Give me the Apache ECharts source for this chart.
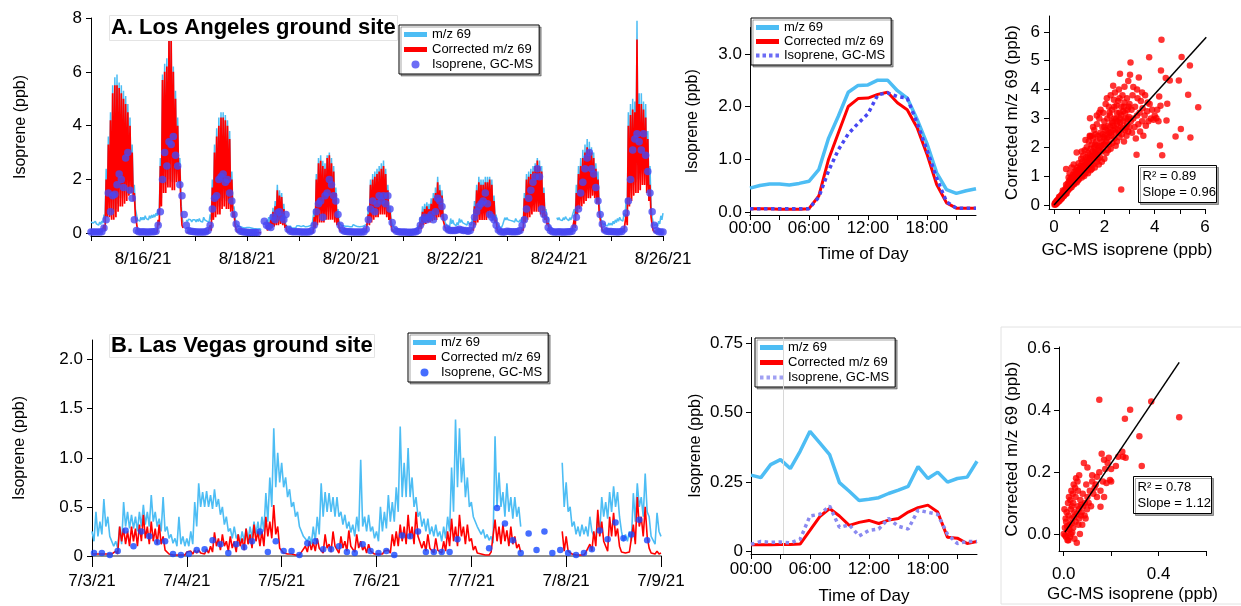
<!DOCTYPE html>
<html>
<head>
<meta charset="utf-8">
<script src="https://cdn.jsdelivr.net/npm/echarts@6/dist/echarts.min.js"></script>
<style>
  html, body { margin: 0; padding: 0; background: #fff; }
  #isopreneChart { width: 1241px; height: 606px; }
</style>
</head>
<body>
<div id="isopreneChart"></div>
<script>
// ---------- Los Angeles, hourly upper / lower envelope per day (8/15 .. 8/25) ----------
const laMz69Top = [
  [0.42,0.38,0.45,0.38,0.42,0.46,0.7,2.4,3.6,4.5,5.5,5.8,5.9,5.6,5.5,5.3,5.1,4.8,4.3,3.3,1.8,0.7,0.55,0.6],
  [0.6,0.65,0.6,0.65,0.68,0.7,0.75,0.9,2.8,5.9,6.3,6.5,7.4,7.3,6.2,5.3,4.3,2.8,0.6,null,0.5,0.52,0.5,0.5],
  [0.5,0.52,0.55,0.5,0.6,0.55,0.5,0.7,2.0,3.3,3.9,4.3,4.5,4.5,4.4,4.2,3.8,2.3,1.0,0.35,0.28,0.25,0.22,0.2],
  [0.22,0.22,0.2,0.18,0.17,0.16,0.17,null,null,0.5,0.6,0.7,0.95,1.2,1.8,1.6,1.5,1.1,0.45,0.3,0.28,0.26,0.27,0.28],
  [0.28,0.25,0.28,0.24,0.25,0.28,0.3,0.9,2.2,2.8,2.9,2.7,2.6,2.9,3.0,2.8,2.5,1.7,0.9,0.4,0.35,0.32,0.32,0.3],
  [0.3,0.32,0.28,0.25,0.24,0.25,0.28,0.33,1.0,2.0,2.2,2.3,2.4,2.5,2.6,2.7,2.4,1.8,1.0,0.35,0.24,0.2,0.18,0.18],
  [0.17,0.15,0.17,0.16,0.17,0.17,0.2,0.28,0.6,1.0,1.1,1.15,1.1,1.3,1.5,1.7,2.1,1.8,1.6,0.7,0.35,0.3,0.55,0.5],
  [0.35,0.4,0.55,0.5,0.45,0.4,0.45,0.4,0.55,1.2,1.8,2.1,2.0,2.0,2.1,2.1,2.1,2.0,1.4,0.7,0.35,0.28,0.32,0.58],
  [0.58,0.55,0.55,0.5,0.55,0.5,0.5,0.6,1.5,2.2,2.3,2.4,2.5,2.6,2.8,2.7,2.5,1.7,0.9,0.6,0.28,null,null,0.58],
  [0.58,0.55,0.58,0.62,0.55,0.58,0.62,0.9,1.8,2.5,2.8,3.1,3.3,3.5,3.4,3.2,3.0,2.6,2.3,1.1,0.45,0.38,0.35,0.38],
  [0.38,0.45,0.5,0.55,0.6,0.55,0.75,1.3,4.5,4.8,5.0,4.9,7.9,5.2,5.2,4.9,4.8,3.8,2.5,0.6,0.28,0.35,0.45,0.65]
];
const laMz69Bottom = [
  [0.35,0.32,0.35,0.3,0.33,0.38,0.5,0.9,0.9,0.8,0.8,0.9,1.1,1.3,1.3,1.4,1.5,1.7,1.8,1.5,0.9,0.5,0.45,0.5],
  [0.5,0.55,0.5,0.55,0.58,0.6,0.65,0.7,1.3,1.8,1.8,2.0,2.0,1.9,1.9,2.2,2.2,1.3,0.4,null,0.42,0.45,0.42,0.44],
  [0.42,0.44,0.45,0.42,0.5,0.45,0.42,0.5,0.8,0.9,1.0,1.0,1.2,1.3,1.2,1.2,1.1,0.9,0.6,0.28,0.22,0.18,0.16,0.15],
  [0.16,0.16,0.15,0.13,0.12,0.12,0.13,null,null,0.35,0.4,0.4,0.45,0.5,0.5,0.55,0.5,0.4,0.25,0.2,0.2,0.2,0.2,0.22],
  [0.22,0.2,0.22,0.18,0.2,0.22,0.24,0.4,0.6,0.7,0.7,0.7,0.8,0.8,0.8,0.8,0.7,0.6,0.4,0.3,0.28,0.26,0.26,0.24],
  [0.24,0.26,0.22,0.2,0.18,0.2,0.22,0.25,0.5,0.7,0.8,0.9,0.9,1.0,1.0,1.0,0.9,0.8,0.5,0.25,0.18,0.15,0.13,0.13],
  [0.13,0.11,0.13,0.12,0.13,0.13,0.15,0.2,0.35,0.5,0.55,0.6,0.6,0.65,0.7,0.7,0.8,0.8,0.7,0.4,0.25,0.22,0.35,0.35],
  [0.28,0.3,0.4,0.4,0.35,0.3,0.35,0.3,0.4,0.6,0.7,0.8,0.8,0.8,0.8,0.9,0.9,0.8,0.6,0.35,0.25,0.22,0.25,0.5],
  [0.5,0.48,0.46,0.42,0.46,0.42,0.42,0.45,0.7,0.8,0.9,1.0,1.1,1.1,1.1,1.0,0.9,0.8,0.5,0.3,0.2,null,null,0.5],
  [0.5,0.47,0.5,0.54,0.47,0.5,0.55,0.6,1.0,1.2,1.3,1.4,1.5,1.6,1.6,1.7,1.6,1.4,1.1,0.5,0.3,0.3,0.28,0.3],
  [0.3,0.35,0.4,0.45,0.5,0.45,0.6,0.8,1.5,1.6,1.8,1.9,2.0,2.0,2.2,2.2,1.9,1.6,1.0,0.4,0.22,0.25,0.35,0.5]
];
const laMz69End = 0.75;
const laCorrTop = [
  [0.05,0.05,0.05,0.05,0.05,0.05,0.3,2.0,3.3,4.2,5.2,5.5,5.5,5.4,5.2,5.0,4.8,4.5,4.0,3.0,1.5,0.4,0.05,0.03],
  [0.03,0.03,0.03,0.03,0.03,0.03,0.05,0.5,2.5,5.7,6.0,6.2,7.2,7.2,6.0,5.0,4.0,2.5,0.3,null,0.03,0.03,0.03,0.03],
  [0.03,0.03,0.03,0.03,0.03,0.03,0.04,0.3,1.7,3.0,3.6,4.0,4.3,4.3,4.2,4.0,3.5,2.0,0.8,0.15,0.04,0.03,0.03,0.03],
  [0.02,0.02,0.02,0.02,0.02,0.02,0.02,null,null,0.3,0.4,0.5,0.8,1.0,1.6,1.4,1.35,0.9,0.3,0.08,0.05,0.04,0.04,0.04],
  [0.03,0.03,0.03,0.03,0.03,0.03,0.05,0.6,2.0,2.6,2.7,2.5,2.4,2.8,2.9,2.6,2.3,1.5,0.6,0.1,0.05,0.05,0.04,0.04],
  [0.04,0.04,0.04,0.04,0.04,0.04,0.05,0.1,0.7,1.8,2.0,2.1,2.2,2.3,2.4,2.5,2.2,1.6,0.8,0.1,0.05,0.04,0.04,0.04],
  [0.03,0.03,0.03,0.03,0.03,0.03,0.04,0.1,0.4,0.8,0.9,1.0,0.9,1.1,1.3,1.5,1.9,1.6,1.4,0.5,0.1,0.05,0.05,0.05],
  [0.05,0.05,0.05,0.05,0.05,0.05,0.05,0.06,0.2,1.0,1.6,1.9,1.8,1.8,1.9,1.9,2.0,1.8,1.2,0.5,0.05,0.04,0.04,0.04],
  [0.05,0.05,0.05,0.05,0.05,0.05,0.05,0.2,1.3,2.0,2.1,2.2,2.3,2.5,2.7,2.5,2.3,1.5,0.7,0.4,0.05,null,null,0.05],
  [0.05,0.05,0.05,0.05,0.05,0.05,0.06,0.5,1.5,2.2,2.5,2.8,3.0,3.2,3.1,3.0,2.8,2.4,2.0,0.8,0.1,0.05,0.05,0.05],
  [0.05,0.05,0.05,0.05,0.05,0.05,0.1,0.7,4.0,4.4,4.6,4.5,7.2,4.8,4.8,4.6,4.3,3.5,1.8,0.3,0.05,0.05,0.05,0.05]
];
const laCorrBottom = [
  [0.05,0.05,0.05,0.05,0.05,0.05,0.1,0.6,0.6,0.5,0.5,0.6,0.8,1.0,1.0,1.1,1.2,1.4,1.5,1.2,0.6,0.1,0.03,0.03],
  [0.03,0.03,0.03,0.03,0.03,0.03,0.04,0.3,1.0,1.5,1.5,1.7,1.7,1.6,1.6,1.9,1.9,1.0,0.2,null,0.03,0.03,0.03,0.03],
  [0.03,0.03,0.03,0.03,0.03,0.03,0.03,0.1,0.5,0.6,0.7,0.7,0.9,1.0,0.9,0.9,0.8,0.6,0.3,0.05,0.03,0.03,0.03,0.03],
  [0.02,0.02,0.02,0.02,0.02,0.02,0.02,null,null,0.1,0.15,0.2,0.25,0.3,0.3,0.35,0.3,0.2,0.08,0.04,0.03,0.03,0.03,0.03],
  [0.03,0.03,0.03,0.03,0.03,0.03,0.03,0.2,0.3,0.4,0.4,0.4,0.5,0.5,0.5,0.5,0.4,0.3,0.2,0.05,0.04,0.04,0.03,0.03],
  [0.04,0.04,0.04,0.04,0.04,0.04,0.04,0.05,0.3,0.4,0.5,0.6,0.6,0.7,0.7,0.7,0.6,0.5,0.3,0.05,0.04,0.04,0.04,0.04],
  [0.03,0.03,0.03,0.03,0.03,0.03,0.03,0.05,0.15,0.3,0.35,0.4,0.4,0.45,0.5,0.5,0.6,0.6,0.5,0.2,0.05,0.04,0.04,0.04],
  [0.04,0.04,0.04,0.04,0.04,0.04,0.04,0.05,0.1,0.3,0.4,0.5,0.5,0.5,0.5,0.6,0.6,0.5,0.4,0.1,0.04,0.03,0.03,0.03],
  [0.04,0.04,0.04,0.04,0.04,0.04,0.04,0.1,0.4,0.5,0.6,0.7,0.8,0.8,0.8,0.7,0.6,0.5,0.3,0.1,0.04,null,null,0.04],
  [0.04,0.04,0.04,0.04,0.04,0.04,0.05,0.2,0.7,0.9,1.0,1.1,1.2,1.3,1.3,1.4,1.3,1.1,0.8,0.3,0.05,0.04,0.04,0.04],
  [0.04,0.04,0.04,0.04,0.04,0.04,0.05,0.3,1.0,1.2,1.4,1.5,1.5,1.6,1.8,1.8,1.5,1.2,0.6,0.1,0.04,0.04,0.04,0.04]
];
const laCorrEnd = 0.05;
const laGcms = [
  [0.05,0.05,0.05,0.05,0.05,0.06,0.2,0.5,1.5,0.8,1.4,1.45,1.8,2.2,2.0,1.7,2.8,3.0,1.6,1.3,0.5,0.1,0.06,0.05],
  [0.06,0.05,0.05,0.05,0.06,0.06,0.08,0.3,0.8,2.0,3.0,2.5,3.4,3.3,3.6,2.9,2.5,1.8,1.4,0.7,0.3,0.1,0.08,0.07],
  [0.06,0.05,0.05,0.05,0.05,0.06,0.1,0.3,0.9,1.3,1.4,2.0,2.1,2.2,1.9,2.0,1.5,1.2,0.7,0.35,0.15,0.08,0.06,0.05],
  [0.04,0.03,0.03,0.03,0.03,0.03,null,null,0.45,0.3,0.25,0.22,0.6,0.5,0.75,0.8,0.6,0.5,0.7,0.15,0.08,0.06,0.06,0.06],
  [0.06,0.05,0.05,0.05,0.05,0.06,0.1,0.3,0.8,1.1,1.2,0.6,1.4,1.5,2.0,1.8,1.4,1.2,0.7,0.3,0.12,0.08,0.07,0.06],
  [0.06,0.05,0.05,0.05,0.05,0.05,0.06,0.15,0.5,0.9,1.2,0.8,1.1,1.4,1.2,1.4,1.1,1.4,0.9,0.4,0.15,0.08,0.06,0.05],
  [0.05,0.05,0.04,0.04,0.04,0.05,0.06,0.1,0.3,0.5,0.6,0.5,0.6,0.7,0.5,0.8,1.3,1.2,1.0,0.6,0.2,0.12,0.1,0.1],
  [0.1,0.12,0.15,0.12,0.1,0.1,0.08,0.1,0.3,0.6,0.8,1.0,1.1,1.2,1.5,1.1,0.7,0.6,0.5,0.3,0.12,0.06,0.05,0.05],
  [0.08,0.07,0.06,0.06,0.06,0.07,0.1,0.3,0.5,0.9,1.3,1.6,1.9,2.1,2.4,2.1,0.9,0.7,0.5,0.22,0.1,0.06,0.05,0.05],
  [0.06,0.05,0.05,0.05,0.06,0.06,0.08,0.2,0.6,0.9,1.5,1.9,2.4,2.8,3.0,2.4,2.2,1.7,1.2,0.7,0.35,0.12,0.08,0.07],
  [0.07,0.06,0.06,0.05,0.06,0.07,0.15,0.75,1.2,2.0,3.1,3.5,3.7,3.4,3.1,3.7,2.9,2.3,1.5,0.8,0.3,0.1,0.06,0.05]
];
const laGcmsEnd = 0.05;
const laTickDays = [1, 3, 5, 7, 9, 11];
const laTickLabels = ["8/16/21", "8/18/21", "8/20/21", "8/22/21", "8/24/21", "8/26/21"];

// ---------- Los Angeles diurnal (hour 0..23) ----------
const laDiurnalMz = [0.45,0.50,0.53,0.53,0.51,0.54,0.58,0.80,1.40,1.82,2.27,2.40,2.41,2.50,2.50,2.30,2.16,1.76,1.30,0.74,0.42,0.35,0.40,0.44];
const laDiurnalCorr = [0.06,0.06,0.06,0.05,0.05,0.05,0.06,0.30,1.00,1.50,2.00,2.15,2.16,2.23,2.27,2.07,1.94,1.60,1.10,0.52,0.17,0.07,0.07,0.07];
const laDiurnalGc = [0.06,0.06,0.06,0.06,0.06,0.06,0.06,0.28,0.78,1.18,1.48,1.68,1.86,2.22,2.26,2.19,2.16,1.69,1.18,0.64,0.19,0.07,0.07,0.07];

// ---------- Los Angeles scatter [GC-MS, corrected m/z 69] ----------
const laScatter = [
  [0.02,0.01],[0.05,0.03],[0.08,0.06],[0.1,0.12],[0.12,0.08],[0.15,0.18],[0.18,0.12],[0.2,0.22],[0.22,0.15],[0.25,0.3],
  [0.27,0.2],[0.3,0.35],[0.32,0.25],[0.35,0.42],[0.37,0.3],[0.4,0.48],[0.42,0.36],[0.45,0.55],[0.47,0.4],[0.5,0.62],
  [0.05,0.08],[0.1,0.05],[0.15,0.1],[0.2,0.28],[0.3,0.22],[0.35,0.5],[0.4,0.32],[0.45,0.45],[0.5,0.4],[0.48,0.7],
  [0.55,0.5],[0.55,0.75],[0.6,0.55],[0.6,0.82],[0.65,0.6],[0.65,0.9],[0.7,0.62],[0.7,0.95],[0.72,0.75],[0.75,0.7],
  [0.75,1.05],[0.8,0.72],[0.8,0.9],[0.82,1.15],[0.85,0.8],[0.85,1.0],[0.88,1.2],[0.9,0.78],[0.9,1.05],[0.92,1.3],
  [0.95,0.85],[0.95,1.1],[0.98,1.45],[1.0,0.9],[1.0,1.2],[0.9,1.82],[0.48,1.25],[0.62,1.1],[0.7,1.3],[0.78,1.4],
  [0.58,0.95],[0.68,0.68],[1.05,1.0],[1.05,1.35],[1.08,1.6],[1.1,0.95],[1.1,1.15],[1.12,1.5],[1.15,1.05],[1.15,1.7],
  [1.2,1.25],[1.2,1.0],[1.22,1.9],[1.25,1.4],[1.25,1.1],[1.28,1.65],[1.3,1.2],[1.3,2.0],[1.32,1.5],[1.35,1.1],
  [1.35,1.8],[1.38,2.2],[1.4,1.3],[1.4,1.6],[1.42,2.4],[1.43,3.01],[1.45,1.2],[1.45,1.95],[1.48,1.45],[1.5,2.1],
  [1.5,1.7],[1.5,1.25],[1.43,2.37],[1.63,1.82],[1.55,1.4],[1.55,2.3],[1.6,1.6],[1.6,2.6],[1.62,1.3],[1.65,1.9],
  [1.68,2.2],[1.7,1.5],[1.7,2.8],[1.72,1.75],[1.75,2.4],[1.78,1.4],[1.8,2.0],[1.8,3.0],[1.82,1.65],[1.85,2.5],
  [1.88,1.85],[1.9,2.2],[1.9,1.5],[1.92,2.7],[1.95,3.2],[1.95,1.9],[1.98,2.35],[2.0,1.6],[2.0,2.9],[1.7,3.1],
  [1.85,3.3],[1.6,2.0],[1.75,1.6],[1.65,2.45],[2.02,2.1],[2.05,2.6],[2.05,3.5],[2.08,1.8],[2.1,2.3],[2.12,3.0],
  [2.15,1.9],[2.15,2.75],[2.18,3.4],[2.2,2.1],[2.2,2.5],[2.22,3.1],[2.25,1.95],[2.25,3.8],[2.28,2.4],[2.3,2.9],
  [2.3,3.3],[2.32,2.15],[2.35,4.13],[2.35,2.6],[2.38,3.65],[2.4,2.3],[2.4,3.0],[2.42,3.9],[2.45,2.5],[2.45,2.05],
  [2.48,3.45],[2.5,2.8],[2.5,2.2],[2.5,3.2],[2.55,2.6],[2.55,3.6],[2.58,4.0],[2.6,2.35],[2.62,4.55],[2.62,3.0],
  [2.65,2.7],[2.67,0.54],[2.68,3.4],[2.7,2.45],[2.72,3.8],[2.75,2.9],[2.75,3.25],[2.78,2.2],[2.8,4.1],[2.8,3.55],
  [2.82,2.6],[2.85,3.0],[2.88,2.4],[2.9,3.7],[2.9,2.8],[2.92,3.3],[2.95,2.55],[2.95,4.3],[2.98,3.05],[3.0,2.7],
  [3.02,4.51],[3.04,4.94],[3.0,3.5],[2.6,3.2],[3.05,2.9],[3.08,3.3],[3.1,2.5],[3.12,3.8],[3.15,4.09],[3.15,3.0],
  [3.2,2.7],[3.22,3.4],[3.25,2.3],[3.28,1.74],[3.3,3.1],[3.32,3.7],[3.35,2.8],[3.37,4.42],[3.4,3.2],[3.42,2.55],
  [3.45,3.6],[3.5,2.9],[3.52,3.35],[3.55,2.4],[3.6,3.1],[3.62,3.8],[3.65,2.75],[3.7,3.25],[3.75,2.9],[3.78,5.12],
  [3.8,3.5],[3.85,3.0],[3.9,3.3],[3.95,2.95],[4.0,3.1],[3.3,4.0],[3.5,3.9],[3.72,3.55],[4.07,3.01],[4.18,3.76],
  [4.21,2.06],[4.23,3.44],[4.25,4.66],[4.27,5.73],[4.3,1.72],[4.44,4.40],[4.47,2.93],[4.5,3.51],[4.6,4.31],[4.83,2.37],
  [4.96,4.31],[5.04,2.63],[5.07,5.13],[5.33,3.82],[5.4,4.83],[5.42,2.34],[5.73,3.39],[4.1,3.3],[4.15,2.9],
  [0.03,0.05],[0.06,0.02],[0.09,0.1],[0.11,0.15],[0.13,0.11],[0.16,0.14],[0.19,0.2],[0.21,0.18],[0.24,0.25],[0.26,0.22],
  [0.29,0.3],[0.31,0.28],[0.34,0.36],[0.36,0.33],[0.39,0.4],[0.41,0.45],[0.44,0.42],[0.46,0.5],[0.49,0.48],[0.52,0.55],
  [0.54,0.6],[0.57,0.65],[0.59,0.7],[0.63,0.72],[0.66,0.78],[0.69,0.8],[0.73,0.85],[0.76,0.88],[0.79,0.95],[0.83,1.0],
  [0.86,0.92],[0.89,1.1],[0.93,1.0],[0.96,1.2],[0.99,1.05],[1.02,1.25],[1.07,1.2],[1.13,1.3],[1.17,1.35],[1.23,1.5],
  [1.27,1.3],[1.33,1.6],[1.37,1.4],[1.42,1.75],[1.47,1.6],[1.53,1.85],[1.57,1.7],[1.63,2.1],[1.67,1.75],[1.73,2.05],
  [1.77,1.9],[1.83,2.3],[1.87,2.05],[1.93,2.45],[1.97,2.1],[2.03,2.4],[2.07,2.2],[2.13,2.55],[2.17,2.35],[2.23,2.7],
  [2.27,2.5],[2.33,2.85],[2.37,2.75],[2.43,2.65],[2.47,3.0],[2.53,2.9],[2.57,2.5],[2.63,2.85],[2.67,3.1],[2.73,2.65],
  [2.77,3.4],[2.83,3.2],[2.87,2.7],[2.93,3.0],[2.97,3.4],[1.1,1.85],[1.25,2.25],[1.55,2.7],[1.8,3.2],[2.1,3.7],
  [2.2,3.2],[2.4,3.4],[2.6,3.7],[2.0,2.7],[1.5,2.4]
];
const laFit = [[0, 0], [6.05, 5.81]];

// ---------- Las Vegas, hourly upper / lower envelope per day (7/3 .. 7/8) ----------
const lvMz69Top = [
  [0.25,0.45,0.35,0.58,0.4,0.2,0.15,0.3,0.55,0.45,0.42,0.4,0.45,0.52,0.45,0.62,0.45,0.38,0.6,0.3,0.22,0.18,0.4,0.2],
  [0.18,0.25,0.55,0.74,0.65,0.66,0.62,0.68,0.58,0.5,0.4,0.28,0.3,0.22,0.25,0.28,0.3,0.35,0.35,0.4,0.64,0.8,1.3,1.05],
  [0.95,0.8,0.68,0.55,0.45,0.3,0.22,0.2,0.3,0.4,0.74,0.65,0.64,0.6,0.6,0.45,0.42,0.35,0.32,0.4,0.98,0.4,0.42,0.3],
  [0.25,0.5,0.45,0.62,0.55,0.7,1.32,0.95,1.1,0.8,0.6,0.45,0.38,0.38,0.3,0.32,0.25,0.3,0.4,0.9,1.39,1.3,1.0,0.8],
  [0.55,0.42,0.32,0.27,0.22,0.2,1.22,0.85,0.65,0.74,0.6,0.6,0.5,null,null,null,null,null,null,null,null,null,null,0.95],
  [0.75,0.5,0.35,0.3,0.32,0.3,0.4,0.25,0.4,0.6,0.55,0.65,0.71,0.65,0.25,0.22,0.25,0.64,0.74,0.6,0.84,0.4,0.2,0.44]
];
const lvMz69Bottom = [
  [0.15,0.2,0.22,0.3,0.2,0.1,0.08,0.12,0.3,0.28,0.28,0.25,0.3,0.32,0.3,0.35,0.3,0.25,0.25,0.18,0.13,0.1,0.12,0.1],
  [0.1,0.12,0.3,0.5,0.5,0.5,0.48,0.5,0.42,0.32,0.25,0.18,0.18,0.13,0.15,0.16,0.18,0.22,0.2,0.25,0.35,0.5,0.7,0.75],
  [0.7,0.6,0.5,0.4,0.3,0.2,0.15,0.12,0.15,0.22,0.4,0.45,0.45,0.4,0.4,0.32,0.28,0.24,0.2,0.25,0.3,0.25,0.25,0.18],
  [0.15,0.25,0.28,0.35,0.35,0.45,0.6,0.6,0.6,0.5,0.4,0.3,0.25,0.22,0.2,0.2,0.15,0.18,0.25,0.45,0.7,0.75,0.6,0.5],
  [0.4,0.3,0.22,0.18,0.16,0.13,0.5,0.5,0.4,0.45,0.38,0.4,0.3,null,null,null,null,null,null,null,null,null,null,0.5],
  [0.45,0.3,0.22,0.2,0.22,0.2,0.25,0.16,0.25,0.4,0.38,0.45,0.5,0.4,0.15,0.15,0.15,0.35,0.5,0.4,0.45,0.2,0.12,0.25]
];
const lvMz69End = 0.2;
const lvCorrTop = [
  [0.02,0.02,0.02,0.02,0.02,0.02,0.05,0.3,0.28,0.25,0.3,0.28,0.32,0.42,0.3,0.35,0.28,0.32,0.2,0.05,0.02,0.02,0.02,0.02],
  [0.04,0.05,0.06,0.06,0.05,0.07,0.1,0.24,0.18,0.22,0.15,0.2,0.15,0.22,0.18,0.28,0.22,0.32,0.25,0.25,0.4,0.35,0.52,0.3],
  [0.08,0.04,0.03,0.03,0.03,0.04,0.1,0.15,0.14,0.18,0.1,0.22,0.12,0.25,0.1,0.2,0.15,0.26,0.12,0.22,0.15,0.1,0.12,0.05],
  [0.04,0.04,0.05,0.06,0.22,0.25,0.32,0.3,0.42,0.3,0.45,0.22,0.15,0.22,0.1,0.18,0.08,0.15,0.25,0.38,0.3,0.42,0.3,0.32],
  [0.18,0.1,0.04,0.03,0.03,0.04,0.37,0.3,0.32,0.26,0.3,0.2,0.12,null,null,null,null,null,null,null,null,null,null,0.25],
  [0.2,0.04,0.03,0.03,0.03,0.04,0.12,0.25,0.47,0.35,0.15,0.4,0.44,0.28,0.04,0.03,0.04,0.32,0.6,0.4,0.5,0.08,0.04,0.05]
];
const lvCorrBottom = [
  [0.01,0.01,0.01,0.01,0.01,0.01,0.02,0.15,0.12,0.1,0.15,0.1,0.15,0.18,0.12,0.15,0.12,0.12,0.06,0.02,0.01,0.01,0.01,0.01],
  [0.02,0.02,0.03,0.03,0.02,0.03,0.04,0.1,0.06,0.1,0.05,0.08,0.04,0.1,0.06,0.12,0.08,0.15,0.1,0.1,0.2,0.18,0.22,0.08],
  [0.03,0.02,0.02,0.01,0.01,0.02,0.04,0.06,0.05,0.08,0.03,0.08,0.04,0.1,0.03,0.08,0.05,0.1,0.04,0.08,0.06,0.03,0.05,0.02],
  [0.02,0.02,0.03,0.03,0.1,0.1,0.15,0.12,0.18,0.12,0.2,0.08,0.05,0.08,0.03,0.06,0.03,0.05,0.1,0.15,0.1,0.2,0.12,0.15],
  [0.06,0.03,0.02,0.01,0.01,0.02,0.15,0.12,0.15,0.1,0.12,0.08,0.04,null,null,null,null,null,null,null,null,null,null,0.05],
  [0.05,0.02,0.01,0.01,0.01,0.02,0.05,0.1,0.2,0.15,0.05,0.2,0.2,0.1,0.02,0.01,0.02,0.12,0.3,0.2,0.2,0.03,0.02,0.02]
];
const lvCorrEnd = 0.03;
// GC-MS samples every 2 h, starting 00:30 on 7/3
const lvGcms = [
  0.03,0.03,0.01,0.05,0.26,0.1,0.25,0.2,0.14,0.15,0.02,0.01,
  0.02,0.06,0.07,0.16,0.12,0.03,0.12,0.09,0.15,0.25,0.04,0.15,
  0.05,0.05,0.01,0.13,0.15,0.07,0.07,0.1,0.04,0.03,0.12,0.05,
  0.03,0.05,0.01,0.21,0.2,0.25,0.04,0.04,0.04,0.04,0.17,null,
  null,null,0.08,0.49,0.33,0.16,0.03,0.23,0.06,0.25,0.03,0.06,
  0.03,0.01,0.03,0.07,0.26,0.17,0.34,0.18,0.22,0.37,0.16
];
const lvTickDays = [0, 1, 2, 3, 4, 5, 6];
const lvTickLabels = ["7/3/21", "7/4/21", "7/5/21", "7/6/21", "7/7/21", "7/8/21", "7/9/21"];

// ---------- Las Vegas diurnal ----------
const lvDiurnalMz = [0.274,0.265,0.312,0.330,0.298,0.360,0.432,0.390,0.348,0.247,0.216,0.183,0.187,0.193,0.208,0.220,0.234,0.305,0.262,0.285,0.249,0.262,0.267,0.324];
const lvDiurnalCorr = [0.023,0.023,0.023,0.024,0.024,0.026,0.075,0.125,0.154,0.127,0.093,0.104,0.111,0.100,0.112,0.118,0.141,0.157,0.166,0.141,0.050,0.047,0.028,0.035];
const lvDiurnalGc = [0.025,0.035,0.032,0.033,0.030,0.043,0.127,0.133,0.163,0.086,0.095,0.055,0.075,0.080,0.118,0.090,0.080,0.148,0.140,0.133,0.061,0.028,0.035,0.035];

// ---------- Las Vegas scatter ----------
const lvScatter = [
  [0.0,0.0],[0.005,0.02],[0.01,-0.01],[0.01,0.04],[0.015,0.01],[0.02,0.06],[0.02,-0.02],[0.025,0.03],[0.03,0.08],[0.03,0.0],
  [0.035,0.05],[0.04,0.1],[0.04,0.02],[0.045,0.07],[0.05,0.12],[0.05,0.04],[0.055,-0.028],[0.06,0.09],[0.06,0.14],[0.065,0.19],
  [0.065,0.05],[0.07,0.11],[0.075,0.07],[0.08,0.13],[0.085,0.23],[0.09,0.1],[0.095,0.16],[0.1,0.215],[0.1,0.12],[0.11,0.14],
  [0.115,0.09],[0.12,0.17],[0.125,0.13],[0.13,0.15],[0.14,0.12],[0.15,0.434],[0.15,0.2],[0.155,0.088],[0.16,0.26],[0.165,0.17],
  [0.17,0.24],[0.175,0.21],[0.18,0.165],[0.185,0.23],[0.19,0.247],[0.195,0.175],[0.2,0.17],[0.2,0.21],[0.22,0.22],[0.23,0.25],
  [0.247,0.266],[0.25,0.25],[0.258,0.373],[0.261,0.247],[0.28,0.402],[0.319,0.316],[0.329,0.22],[0.369,0.429],[0.487,0.378],[0.008,0.05],
  [0.012,0.07],[0.018,0.1],[0.022,0.12],[0.028,0.11],[0.032,0.14],[0.038,0.13],[0.042,0.16],[0.048,0.15],[0.052,0.18],[0.058,0.17],
  [0.062,0.03],[0.068,0.0],[0.072,0.06],[0.078,0.03],[0.082,0.09],[0.088,0.06],[0.092,0.05],[0.098,0.08],[0.003,0.08],[0.006,-0.005],
  [0.014,0.025],[0.024,0.015],[0.034,0.035],[0.044,0.055],[0.054,0.065],[0.064,0.08],[0.074,0.095],[0.105,0.1],[0.12,0.19],[0.135,0.16],
  [0.14,0.185],[0.155,0.14],[0.17,0.12],[0.045,-0.015],[0.035,0.09],[0.016,-0.02],[0.026,-0.01],[0.036,0.005]
];
const lvFit = [[0.005, 0.006], [0.487, 0.555]];

const hourTicks = [0, 3, 6, 9, 12, 15, 18, 21];
const hourLabelValues = [0, 6, 12, 18];
const hourLabels = ["00:00", "06:00", "12:00", "18:00"];

// ---------- styling ----------
const FONT = '"Liberation Sans", Arial, Helvetica, sans-serif';
const BLUE = "#4dbdf4";
const RED = "#ff0000";
const GC_LA = "#4747f2";
const GC_LV = "#1749ff";
const GC_LV_DIURNAL = "#8a8af0";

// top of each hour at h, bottom of the same hour at h + 0.5
function envelope(top, bottom, last) {
  const pts = [];
  top.forEach(function (day, d) {
    day.forEach(function (v, h) {
      const lo = bottom[d][h];
      pts.push([d + h / 24, v === null ? "-" : v]);
      pts.push([d + (h + 0.5) / 24, lo === null ? "-" : lo]);
    });
  });
  pts.push([top.length, last]);
  return pts;
}
function hourly(days, last) {
  const pts = [];
  days.forEach(function (day, d) {
    day.forEach(function (v, h) {
      pts.push([d + h / 24, v === null ? "-" : v]);
    });
  });
  pts.push([days.length, last]);
  return pts;
}
function byHour(values) {
  return values.map(function (v, h) { return [h, v]; });
}

function axis(grid, min, max, ticks, labels, fmt, name, nameGap, margin) {
  return {
    type: "value",
    gridIndex: grid,
    min: min,
    max: max,
    splitLine: { show: false },
    axisLine: { onZero: false, lineStyle: { color: "#000", width: 1 } },
    axisTick: { customValues: ticks, length: 5, lineStyle: { color: "#000", width: 1 } },
    axisLabel: { customValues: labels, formatter: fmt, color: "#000", fontSize: 17, fontFamily: FONT, margin: margin },
    name: name,
    nameLocation: "middle",
    nameGap: nameGap,
    nameTextStyle: { color: "#000", fontSize: 17, fontFamily: FONT },
  };
}

const ICON_BAR = "path://M0,0M23,10M0,2.5h23v5h-23z";
const ICON_DOT = "path://M0,0M23,10M7.5,5a4,4 0 1,0 8,0a4,4 0 1,0 -8,0z";
const ICON_DOTTED = "path://M0,0M23,10M0,3h3.5v4h-3.5zM6.5,3h3.5v4h-3.5zM13,3h3.5v4h-3.5zM19.5,3h3.5v4h-3.5z";

function legendBox(left, top, gap, gcIcon, gcColor) {
  return {
    left: left,
    top: top,
    orient: "vertical",
    selectedMode: false,
    itemWidth: 23,
    itemHeight: 10,
    itemGap: gap,
    padding: [3, 6, 3, 5],
    backgroundColor: "#fff",
    borderColor: "#000",
    borderWidth: 1,
    shadowColor: "rgba(0,0,0,0.35)",
    shadowOffsetX: 2,
    shadowOffsetY: 2,
    shadowBlur: 0,
    textStyle: { color: "#000", fontSize: 13, fontFamily: FONT, lineHeight: 13 },
    data: [
      { name: "m/z 69", icon: ICON_BAR, itemStyle: { color: BLUE, borderWidth: 0 } },
      { name: "Corrected m/z 69", icon: ICON_BAR, itemStyle: { color: RED, borderWidth: 0 } },
      { name: "Isoprene, GC-MS", icon: gcIcon, itemStyle: { color: gcColor, borderWidth: 0 } },
    ],
  };
}

function statsBox(left, top, r2, slope) {
  return {
    type: "group",
    left: left,
    top: top,
    children: [
      {
        type: "rect",
        shape: { x: 0, y: 0, width: 78, height: 37 },
        style: { fill: "#fff", stroke: "#000", lineWidth: 1, shadowColor: "rgba(0,0,0,0.35)", shadowOffsetX: 2, shadowOffsetY: 2 },
      },
      {
        type: "text",
        x: 4,
        y: 3,
        style: { text: "R\u00b2 = " + r2 + "\nSlope = " + slope, fill: "#000", fontSize: 13, fontFamily: FONT, lineHeight: 16 },
      },
    ],
  };
}

document.addEventListener("DOMContentLoaded", function () {
  const chart = echarts.init(document.getElementById("isopreneChart"));
  const option = {
    animation: false,
    backgroundColor: "#fff",
    title: [
      {
        text: "A. Los Angeles ground site",
        left: 109, top: 15,
        padding: [2, 2, 2, 2],
        backgroundColor: "#fff", borderColor: "#e4e4e4", borderWidth: 1,
        textStyle: { fontSize: 22, fontWeight: "bold", color: "#000", fontFamily: FONT },
      },
      {
        text: "B. Las Vegas ground site",
        left: 109, top: 334,
        padding: [1, 2, 1, 2],
        backgroundColor: "#fff", borderColor: "#e4e4e4", borderWidth: 1,
        textStyle: { fontSize: 22, fontWeight: "bold", color: "#000", fontFamily: FONT },
      },
    ],
    legend: [
      legendBox(399, 25, 2, ICON_DOT, GC_LA),
      legendBox(751, 18, 1, ICON_DOTTED, GC_LA),
      legendBox(408, 333, 2, ICON_DOT, GC_LV),
      legendBox(755, 338, 2, ICON_DOTTED, GC_LV_DIURNAL),
    ],
    grid: [
      { left: 91, top: 18, width: 572, height: 218 },
      { left: 750, top: 27.5, width: 226, height: 187.5 },
      { left: 1049, top: 16, width: 156, height: 193 },
      { left: 92, top: 340, width: 569, height: 216 },
      { left: 751, top: 337.5, width: 226, height: 217.5 },
      { left: 1059, top: 347, width: 147, height: 204 },
    ],
    xAxis: [
      axis(0, 0, 11, [0,1,2,3,4,5,6,7,8,9,10,11], laTickDays,
        function (v) { return laTickLabels[laTickDays.indexOf(v)]; }, "", 30, 15),
      axis(1, 0, 23, hourTicks, hourLabelValues,
        function (v) { return hourLabels[hourLabelValues.indexOf(v)]; }, "Time of Day", 31, 5),
      axis(2, -0.2, 6, [0,1,2,3,4,5,6], [0,2,4,6],
        function (v) { return String(v); }, "GC-MS isoprene (ppb)", 33, 10),
      Object.assign(axis(3, 0, 6, lvTickDays, lvTickDays,
        function (v) { return lvTickLabels[lvTickDays.indexOf(v)]; }, "", 30, 17), {
        axisLine: { onZero: false, lineStyle: { color: "#8f8f8f", width: 2 } },
        axisTick: { customValues: lvTickDays, length: 11, lineStyle: { color: "#000", width: 1 } },
      }),
      axis(4, 0, 23, hourTicks, hourLabelValues,
        function (v) { return hourLabels[hourLabelValues.indexOf(v)]; }, "Time of Day", 34, 7),
      axis(5, -0.02, 0.6, [0,0.2,0.4,0.6], [0,0.4],
        function (v) { return v.toFixed(1); }, "GC-MS isoprene (ppb)", 35, 15),
    ],
    yAxis: [
      Object.assign(axis(0, -0.1, 8, [0,2,4,6,8], [0,2,4,6,8],
        function (v) { return String(v); }, "Isoprene (ppb)", 62, 9), {
        nameTextStyle: { color: "#000", fontSize: 16, fontFamily: FONT },
      }),
      Object.assign(axis(1, -0.06, 3.5, [0,1,2,3], [0,1,2,3],
        function (v) { return v.toFixed(1); }, "Isoprene (ppb)", 49, 8), {
        nameTextStyle: { color: "#000", fontSize: 16, fontFamily: FONT },
      }),
      axis(2, -0.14, 6.55, [0,1,2,3,4,5,6], [0,1,2,3,4,5,6],
        function (v) { return String(v); }, "Corrected m/z 69 (ppb)", 28, 9),
      Object.assign(axis(3, 0, 2.2, [0,0.5,1,1.5,2], [0,0.5,1,1.5,2],
        function (v) { return v === 0 ? "0" : v.toFixed(1); }, "Isoprene (ppb)", 64, 9), {
        nameTextStyle: { color: "#000", fontSize: 16, fontFamily: FONT },
      }),
      Object.assign(axis(4, -0.01, 0.77, [0,0.25,0.5,0.75], [0,0.25,0.5,0.75],
        function (v) { return v === 0 ? "0" : v.toFixed(2); }, "Isoprene (ppb)", 47, 8), {
        nameTextStyle: { color: "#000", fontSize: 16, fontFamily: FONT },
      }),
      axis(5, -0.055, 0.605, [0,0.2,0.4,0.6], [0,0.2,0.4,0.6],
        function (v) { return v.toFixed(1); }, "Corrected m/z 69 (ppb)", 38, 8),
    ],
    graphic: [
      {
        type: "rect", z: -10,
        shape: { x: 1001, y: 327, width: 260, height: 277 },
        style: { fill: "none", stroke: "#e2e2e2", lineWidth: 1 },
      },
      statsBox(1138, 165, "0.89", "0.96"),
      statsBox(1133, 476, "0.78", "1.12"),
    ],
    series: [
      // A time series
      { name: "m/z 69", type: "line", xAxisIndex: 0, yAxisIndex: 0, data: envelope(laMz69Top, laMz69Bottom, laMz69End),
        showSymbol: false, symbol: "none", z: 2, lineStyle: { color: BLUE, width: 1.5 }, itemStyle: { color: BLUE } },
      { name: "Corrected m/z 69", type: "line", xAxisIndex: 0, yAxisIndex: 0, data: envelope(laCorrTop, laCorrBottom, laCorrEnd),
        showSymbol: false, symbol: "none", z: 3, lineStyle: { color: RED, width: 1.7 }, itemStyle: { color: RED } },
      { name: "Isoprene, GC-MS", type: "scatter", xAxisIndex: 0, yAxisIndex: 0, data: hourly(laGcms, laGcmsEnd),
        symbolSize: 7.5, z: 4, itemStyle: { color: GC_LA } },
      // A diurnal
      { name: "m/z 69", type: "line", xAxisIndex: 1, yAxisIndex: 1, data: byHour(laDiurnalMz),
        showSymbol: false, symbol: "none", z: 2, lineStyle: { color: BLUE, width: 3.5 }, itemStyle: { color: BLUE } },
      { name: "Corrected m/z 69", type: "line", xAxisIndex: 1, yAxisIndex: 1, data: byHour(laDiurnalCorr),
        showSymbol: false, symbol: "none", z: 3, lineStyle: { color: RED, width: 3 }, itemStyle: { color: RED } },
      { name: "Isoprene, GC-MS", type: "line", xAxisIndex: 1, yAxisIndex: 1, data: byHour(laDiurnalGc),
        showSymbol: false, symbol: "none", z: 4, lineStyle: { color: GC_LA, width: 3.5, type: [3.5, 3.5], cap: "butt" }, itemStyle: { color: GC_LA } },
      // A scatter
      { name: "LA correlation", type: "scatter", xAxisIndex: 2, yAxisIndex: 2, data: laScatter,
        symbolSize: 6.5, itemStyle: { color: RED } },
      { name: "LA fit", type: "line", xAxisIndex: 2, yAxisIndex: 2, data: laFit,
        showSymbol: false, symbol: "none", z: 5, lineStyle: { color: "#000", width: 1.5 } },
      // B time series
      { name: "m/z 69", type: "line", xAxisIndex: 3, yAxisIndex: 3, data: envelope(lvMz69Top, lvMz69Bottom, lvMz69End),
        showSymbol: false, symbol: "none", z: 2, lineStyle: { color: BLUE, width: 1.6 }, itemStyle: { color: BLUE } },
      { name: "Corrected m/z 69", type: "line", xAxisIndex: 3, yAxisIndex: 3, data: envelope(lvCorrTop, lvCorrBottom, lvCorrEnd),
        showSymbol: false, symbol: "none", z: 3, lineStyle: { color: RED, width: 1.6 }, itemStyle: { color: RED } },
      { name: "Isoprene, GC-MS", type: "scatter", xAxisIndex: 3, yAxisIndex: 3,
        data: lvGcms.map(function (v, k) { return [(0.5 + 2 * k) / 24, v === null ? "-" : v]; }),
        symbolSize: 6.5, z: 4, itemStyle: { color: GC_LV } },
      // B diurnal
      { name: "m/z 69", type: "line", xAxisIndex: 4, yAxisIndex: 4, data: byHour(lvDiurnalMz),
        showSymbol: false, symbol: "none", z: 2, lineStyle: { color: BLUE, width: 3.5 }, itemStyle: { color: BLUE },
        markLine: { silent: true, symbol: "none", label: { show: false },
          lineStyle: { color: "#d8d8d8", width: 1, type: "solid" }, data: [{ xAxis: 3.25 }] } },
      { name: "Corrected m/z 69", type: "line", xAxisIndex: 4, yAxisIndex: 4, data: byHour(lvDiurnalCorr),
        showSymbol: false, symbol: "none", z: 3, lineStyle: { color: RED, width: 3 }, itemStyle: { color: RED } },
      { name: "Isoprene, GC-MS", type: "line", xAxisIndex: 4, yAxisIndex: 4, data: byHour(lvDiurnalGc),
        showSymbol: false, symbol: "none", z: 4, lineStyle: { color: GC_LV_DIURNAL, width: 3.5, type: [3.5, 3.5], cap: "butt" }, itemStyle: { color: GC_LV_DIURNAL } },
      // B scatter
      { name: "LV correlation", type: "scatter", xAxisIndex: 5, yAxisIndex: 5, data: lvScatter,
        symbolSize: 6.5, itemStyle: { color: RED } },
      { name: "LV fit", type: "line", xAxisIndex: 5, yAxisIndex: 5, data: lvFit,
        showSymbol: false, symbol: "none", z: 5, lineStyle: { color: "#000", width: 1.5 } },
    ],
  };
  chart.setOption(option);

  window.addEventListener("resize", () => {
    chart.resize();
  });
});
</script>
</body>
</html>
